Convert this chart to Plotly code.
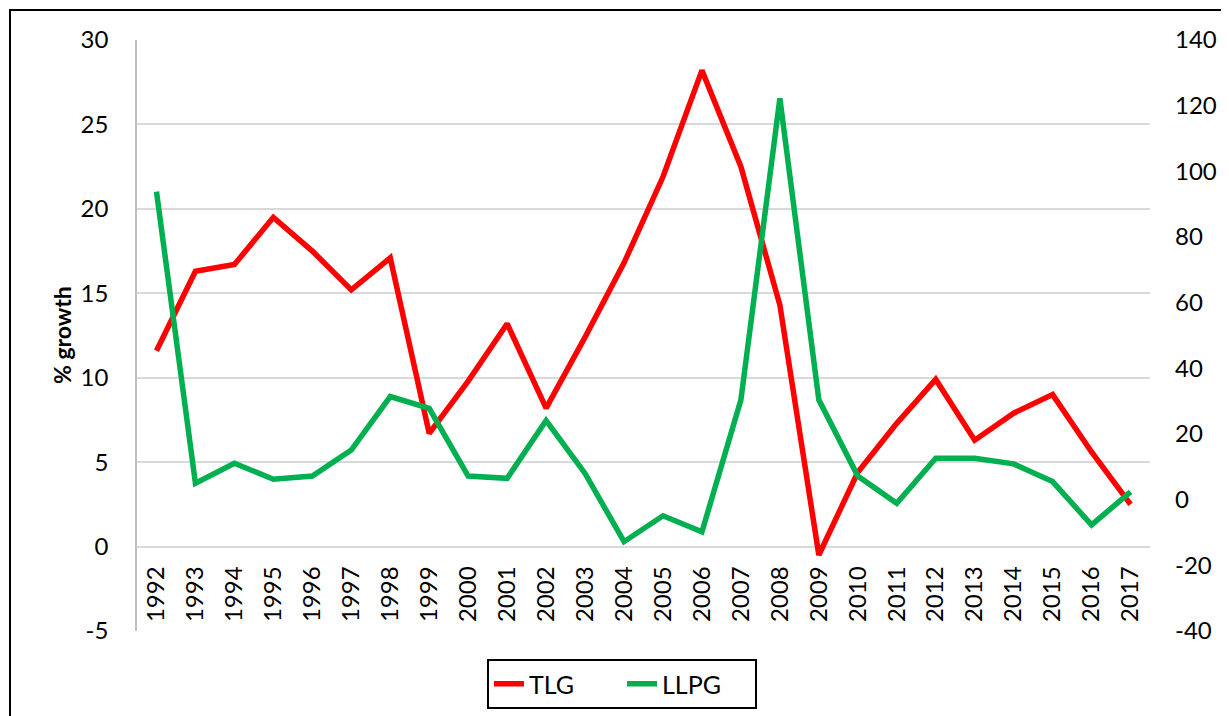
import plotly.graph_objects as go

years = [str(y) for y in range(1992, 2018)]
tlg = [11.6, 16.3, 16.7, 19.5, 17.5, 15.2, 17.1, 6.7, 9.8, 13.2, 8.2, 12.4, 16.8,
       21.9, 28.2, 22.5, 14.3, -0.5, 4.4, 7.3, 9.9, 6.3, 7.9, 9.0, 5.6, 2.5]
llpg = [93.8, 5.0, 11.1, 6.2, 7.2, 15.1, 31.4, 27.8, 7.2, 6.5, 24.1, 8.0, -12.8,
        -4.9, -9.8, 30.4, 122.2, 30.4, 7.2, -1.1, 12.6, 12.6, 10.9, 5.5, -7.7, 2.4]
left_ticks = [-5, 0, 5, 10, 15, 20, 25, 30]
right_ticks = [-40, -20, 0, 20, 40, 60, 80, 100, 120, 140]

OFF = 8  # default page body margin
W, H = 1229 - OFF, 716 - OFF
L, T = 137 - OFF, 40 - OFF
pw, ph = 1013, 591
R, B = W - L - pw, H - T - ph

def px(x):
    return (x - OFF - L) / pw

def py(y):
    return (T + ph - (y - OFF)) / ph

FONT = "Lato"

fig = go.Figure()
fig.add_trace(go.Scatter(x=years, y=tlg, name="TLG", mode="lines",
                         line=dict(color="#FF0000", width=5.5), yaxis="y"))
fig.add_trace(go.Scatter(x=years, y=llpg, name="LLPG", mode="lines",
                         line=dict(color="#00B050", width=5.5), yaxis="y2"))

fig.update_layout(
    width=W, height=H,
    margin=dict(l=L, r=R, t=T, b=B, autoexpand=False),
    paper_bgcolor="white", plot_bgcolor="white",
    font=dict(family=FONT, size=24, color="black"),
    showlegend=True,
    legend=dict(orientation="h", x=px(622), xanchor="center", y=py(684), yanchor="middle",
                bordercolor="black", borderwidth=2, font=dict(size=25, family=FONT),
                entrywidth=88, entrywidthmode="pixels", tracegroupgap=0),
    xaxis=dict(type="category", categoryorder="array", categoryarray=years,
               range=[-0.5, len(years) - 0.5], anchor="free", position=5 / 35,
               showgrid=False, showline=False, zeroline=False, ticks="",
               tickangle=-90, tickfont=dict(size=24, family=FONT),
               ticklabelstandoff=14, automargin=False),
    yaxis=dict(range=[-5, 30], tickvals=left_ticks, ticktext=[str(v) for v in left_ticks],
               showgrid=True, gridcolor="#D9D9D9",
               gridwidth=1.5, zeroline=False, showline=True, linecolor="#BFBFBF",
               linewidth=1.5, ticks="", tickfont=dict(size=24, family=FONT),
               ticklabelstandoff=22, automargin=False),
    yaxis2=dict(range=[-40, 140], tickvals=right_ticks, ticktext=[str(v) for v in right_ticks],
                overlaying="y", side="right",
                showgrid=False, zeroline=False, showline=False, ticks="",
                tickfont=dict(size=24, family=FONT), ticklabelstandoff=24, automargin=False),
)

fig.add_annotation(text="<b>% growth</b>", textangle=-90, xref="paper", yref="paper",
                   x=px(62), y=py(335), xanchor="center", yanchor="middle",
                   showarrow=False, font=dict(size=23, family=FONT, color="black"))

fig.add_shape(type="rect", xref="paper", yref="paper",
              x0=px(10), x1=px(1232), y0=py(722), y1=py(10),
              line=dict(color="black", width=2), layer="above")

fig.write_html("out.html")
